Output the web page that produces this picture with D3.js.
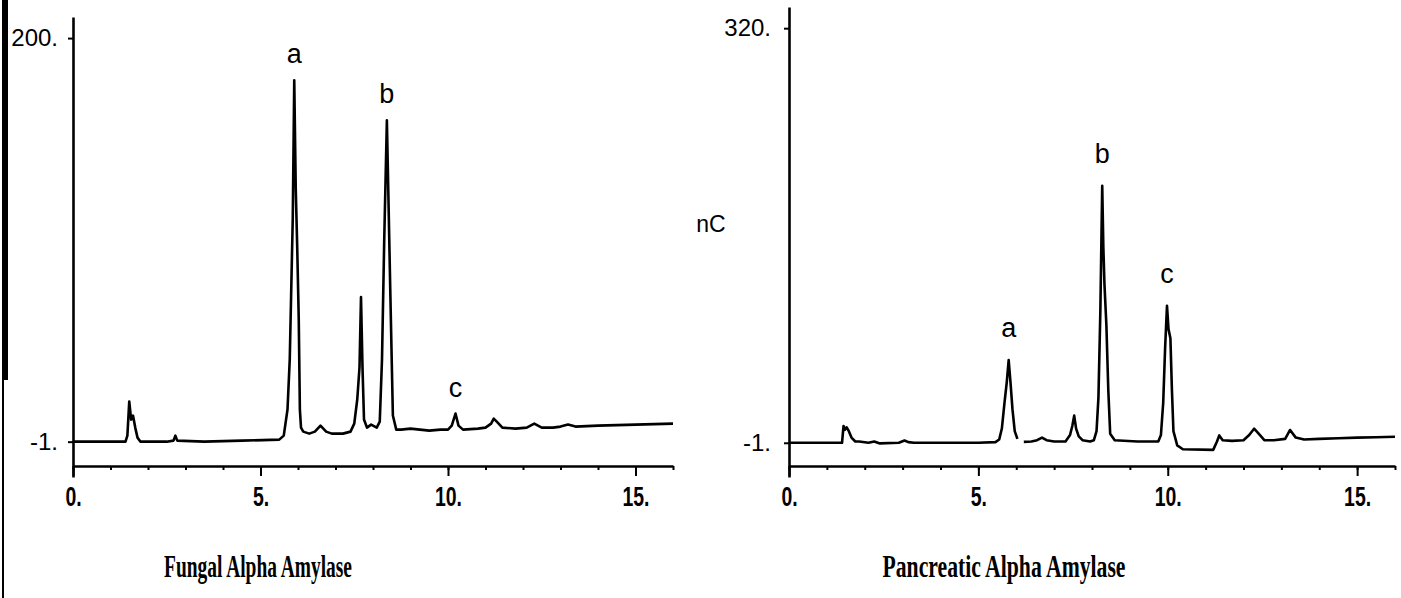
<!DOCTYPE html>
<html>
<head>
<meta charset="utf-8">
<script src="https://d3js.org/d3.v7.min.js"></script>
<style>
body{margin:0;background:#fff;}
svg text{fill:#000;}
</style>
</head>
<body>
<svg id="chart" width="1401" height="598"></svg>
<script>
// retention time (min) / detector signal (nC)
var fungalTime = [0,1.40,1.45,1.50,1.55,1.60,1.66,1.72,1.80,1.88,2.5,2.68,2.73,2.78,3.5,4.5,5.5,5.62,5.72,5.78,5.82,5.86,5.90,5.94,5.98,6.02,6.05,6.08,6.14,6.3,6.45,6.6,6.75,6.9,7.2,7.4,7.5,7.58,7.64,7.68,7.72,7.76,7.84,7.95,8.1,8.18,8.24,8.3,8.37,8.41,8.46,8.53,8.62,8.75,9.0,9.5,9.8,10.0,10.1,10.2,10.28,10.4,10.8,11.0,11.15,11.22,11.3,11.45,11.8,12.1,12.3,12.5,12.8,13.0,13.2,13.4,14,15,16];
var fungalSignal = [-1,-1,2,19,10,12,6,1,-1,-1,-1,-0.5,2,-0.5,-1,-0.5,0,2,15,40,75,110,179,125,95,60,15,6,4,3,4,7,4,3,3,4,8,20,36,71,36,10,6,7.5,6,9,40,100,159,122,75,12,5,5,5.5,4.5,5,5,7,13,7,5,5.5,6,8,10.5,9,6,5.5,6,8,6,6,6.5,7.5,6.5,7,7.5,8];

var pancTime = [0,1.40,1.44,1.47,1.52,1.58,1.65,1.75,1.85,2.1,2.25,2.4,2.9,3.05,3.15,3.3,4.0,5.0,5.45,5.55,5.62,5.69,5.75,5.8,5.85,5.9,5.96,6.03,6.12,6.2,6.4,6.55,6.68,6.8,7.0,7.3,7.42,7.48,7.53,7.58,7.65,7.75,7.95,8.05,8.12,8.17,8.22,8.27,8.30,8.33,8.38,8.43,8.48,8.6,9.2,9.6,9.75,9.82,9.88,9.93,9.98,10.02,10.07,10.11,10.15,10.25,10.4,11.2,11.3,11.36,11.45,11.7,12.0,12.15,12.28,12.4,12.55,12.8,13.1,13.23,13.38,13.6,14.0,14.5,15,15.5,16];
var pancSignal = [-1,-1,12,9,11,8,3,0,0,-1,0,-1.5,-1,0.8,-0.5,-1,-1,-1,-0.5,1.5,10,30,46,63,45,25,8,2,null,-0.3,0,1,3,1,0,0,5,12,20,10,4,1,0,1,8,34,100,198,150,121,90,40,6,1,0,0,0,5,30,72,105,87,80,40,8,-3,-6,-6.5,0,4.7,1,0.5,1,5,9.9,6,1,1,2,8.9,3,1.5,2,2.5,3,3.3,3.7];

var peakNames = ['a','b','c'];
var fungalPeakTimes = [5.9,8.37,10.2];
var fungalPeakHeights = [179,159,13];
var pancPeakTimes = [5.8,8.27,9.98];
var pancPeakHeights = [63,198,105];

var timeTicks = d3.range(0,17);
var timeMajor = [0,5,10,15];
var fungalYTicks = [-1,200];
var pancYTicks = [-1,320];

var svg = d3.select('#chart');

// scan edge on the left of the page
svg.append('rect').attr('x',2).attr('y',0).attr('width',6).attr('height',380).attr('fill','#000');
svg.append('line').attr('x1',3).attr('x2',3).attr('y1',380).attr('y2',598).attr('stroke','#000').attr('stroke-width',2);

function squeeze(sel,k){
  sel.each(function(){
    var w=this.getComputedTextLength();
    d3.select(this).attr('textLength',w*k).attr('lengthAdjust','spacingAndGlyphs');
  });
}

function panel(o){
  var xs = d3.scaleLinear().domain([0,16]).range(o.xr);
  var ys = d3.scaleLinear().domain(o.yd).range([477,o.top]);
  var g = svg.append('g');

  // y axis
  var ya = g.append('g').attr('transform','translate('+o.xr[0]+',0)')
    .call(d3.axisLeft(ys).tickValues(o.yticks).tickSize(5).tickSizeOuter(0).tickPadding(o.ypad).tickFormat(function(d){return d+'.';}));
  ya.select('.domain').attr('stroke-width',2.6);
  ya.selectAll('line').attr('stroke-width',2);
  ya.selectAll('text').attr('font-family','"Liberation Sans", Arial, sans-serif').attr('font-size',24);

  // x axis, minor ticks then major ticks
  var xm = g.append('g').attr('transform','translate(0,466)')
    .call(d3.axisBottom(xs).tickValues(timeTicks).tickSize(4).tickSizeOuter(0).tickFormat(''));
  xm.select('.domain').attr('stroke-width',2.6);
  xm.selectAll('line').attr('stroke-width',2);
  var xa = g.append('g').attr('transform','translate(0,466)')
    .call(d3.axisBottom(xs).tickValues(timeMajor).tickSize(10).tickSizeOuter(0).tickPadding(11).tickFormat(function(d){return d+'.';}));
  xa.select('.domain').remove();
  xa.selectAll('line').attr('stroke-width',2);
  xa.selectAll('text').attr('font-family','"Liberation Sans", Arial, sans-serif')
    .attr('font-weight','bold').attr('font-size',27).call(squeeze,0.72);

  // trace
  var pts = o.t.map(function(t,i){return [t,o.v[i]];});
  var line = d3.line().defined(function(d){return d[1]!==null;})
    .x(function(d){return xs(d[0]);}).y(function(d){return ys(d[1]);});
  g.append('path').datum(pts).attr('d',line).attr('fill','none')
    .attr('stroke','#000').attr('stroke-width',2.6).attr('stroke-linejoin','round');

  // peak letters
  g.selectAll('text.pk').data(peakNames).enter().append('text').attr('class','pk')
    .attr('x',function(d,i){return xs(o.pt[i]);})
    .attr('y',function(d,i){return ys(o.ph[i])-o.lofs;})
    .attr('text-anchor','middle').attr('font-family','"Liberation Sans", Arial, sans-serif')
    .attr('font-size',27).text(function(d){return d;});

  // title
  g.append('text').attr('x',o.titleX).attr('y',577).attr('text-anchor','middle')
    .attr('font-family','"Liberation Serif", "Times New Roman", serif').attr('font-weight','bold')
    .attr('font-size',31).attr('textLength',o.titleW).attr('lengthAdjust','spacingAndGlyphs')
    .text(o.title);
  return g;
}

panel({xr:[73,673], yd:[-18.6,210.5], top:17, yticks:fungalYTicks, ypad:10,
  t:fungalTime, v:fungalSignal, pt:fungalPeakTimes, ph:fungalPeakHeights, lofs:17,
  title:'Fungal Alpha Amylase', titleX:258, titleW:188});

var rp = panel({xr:[789,1395], yd:[-27.5,336.4], top:7, yticks:pancYTicks, ypad:13,
  t:pancTime, v:pancSignal, pt:pancPeakTimes, ph:pancPeakHeights, lofs:23,
  title:'Pancreatic Alpha Amylase', titleX:1004, titleW:243});

rp.append('text').attr('x',711).attr('y',232).attr('text-anchor','middle')
  .attr('font-family','"Liberation Sans", Arial, sans-serif').attr('font-size',23).text('nC');
</script>
</body>
</html>
